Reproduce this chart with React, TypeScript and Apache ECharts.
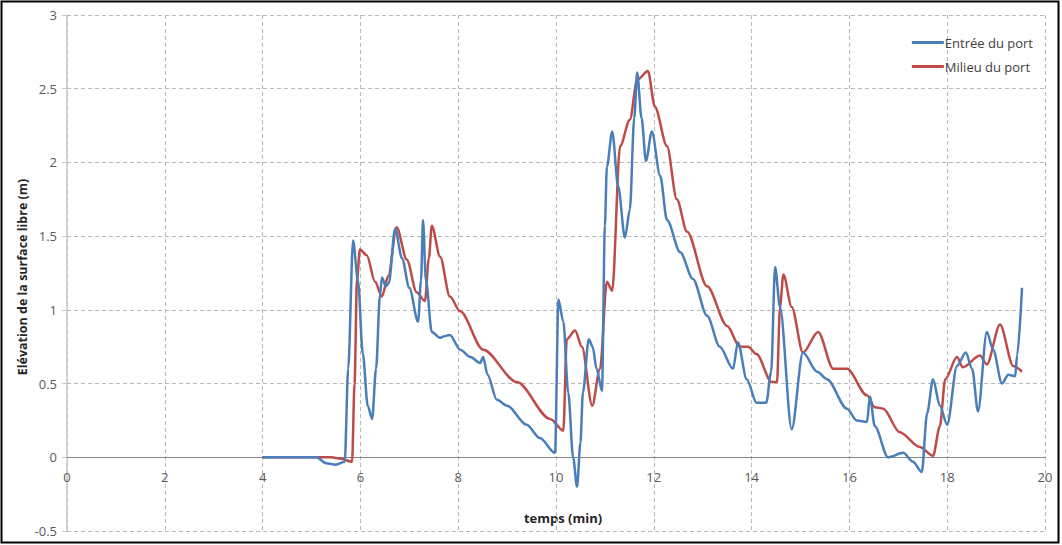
import React, { useEffect, useRef } from "react";
import * as echarts from "echarts";

const entreeTime = [4.0, 5.1, 5.3, 5.5, 5.68, 5.75, 5.85, 5.95, 6.05, 6.15, 6.24, 6.32, 6.4, 6.44, 6.52, 6.58, 6.71, 6.85, 7.0, 7.18, 7.24, 7.28, 7.34, 7.46, 7.63, 7.7, 7.83, 8.04, 8.25, 8.45, 8.51, 8.6, 8.79, 9.0, 9.4, 9.67, 9.98, 10.05, 10.15, 10.25, 10.35, 10.43, 10.5, 10.55, 10.67, 10.75, 10.83, 10.94, 11.0, 11.04, 11.15, 11.27, 11.41, 11.51, 11.6, 11.66, 11.75, 11.84, 11.96, 12.13, 12.27, 12.54, 12.8, 13.09, 13.35, 13.62, 13.72, 13.9, 14.1, 14.3, 14.4, 14.48, 14.58, 14.82, 15.05, 15.34, 15.54, 15.95, 16.15, 16.36, 16.42, 16.52, 16.79, 17.1, 17.3, 17.48, 17.59, 17.71, 17.85, 18.0, 18.2, 18.38, 18.51, 18.63, 18.81, 18.94, 19.12, 19.25, 19.39, 19.43, 19.53];
const entreeElev = [0, 0, -0.04, -0.05, -0.03, 0.6, 1.47, 1.2, 0.7, 0.35, 0.26, 0.6, 1.1, 1.22, 1.16, 1.18, 1.55, 1.35, 1.15, 0.92, 1.2, 1.61, 1.2, 0.85, 0.81, 0.82, 0.83, 0.73, 0.68, 0.64, 0.68, 0.56, 0.39, 0.35, 0.22, 0.13, 0.03, 1.07, 0.92, 0.44, 0.0, -0.2, 0.1, 0.44, 0.8, 0.75, 0.6, 0.45, 1.57, 1.97, 2.21, 1.84, 1.49, 1.68, 2.3, 2.61, 2.3, 2.01, 2.21, 1.91, 1.61, 1.39, 1.21, 0.96, 0.75, 0.6, 0.78, 0.53, 0.37, 0.37, 0.58, 1.29, 1.02, 0.19, 0.71, 0.58, 0.53, 0.33, 0.25, 0.24, 0.41, 0.21, 0.0, 0.03, -0.03, -0.1, 0.3, 0.53, 0.35, 0.22, 0.62, 0.71, 0.6, 0.31, 0.85, 0.73, 0.5, 0.56, 0.55, 0.69, 1.15];

const milieuTime = [4.0, 5.4, 5.6, 5.83, 5.88, 5.93, 5.99, 6.13, 6.3, 6.44, 6.57, 6.74, 6.95, 7.15, 7.32, 7.4, 7.46, 7.63, 7.83, 8.04, 8.51, 9.2, 9.88, 10.15, 10.22, 10.39, 10.53, 10.74, 10.9, 11.04, 11.15, 11.31, 11.51, 11.66, 11.88, 12.02, 12.27, 12.47, 12.68, 13.09, 13.5, 13.76, 13.93, 14.1, 14.41, 14.52, 14.58, 14.65, 14.82, 15.05, 15.36, 15.67, 15.95, 16.36, 16.52, 16.69, 17.03, 17.44, 17.71, 17.85, 17.96, 18.2, 18.32, 18.67, 18.81, 19.08, 19.35, 19.53];
const milieuElev = [0, 0, -0.01, -0.03, 0.5, 1.2, 1.41, 1.37, 1.19, 1.09, 1.23, 1.56, 1.34, 1.12, 1.06, 1.35, 1.57, 1.36, 1.09, 0.99, 0.73, 0.51, 0.26, 0.18, 0.8, 0.86, 0.75, 0.35, 0.6, 1.19, 1.13, 2.11, 2.29, 2.56, 2.62, 2.38, 2.11, 1.75, 1.53, 1.16, 0.89, 0.75, 0.75, 0.7, 0.51, 0.51, 1.02, 1.24, 1.02, 0.71, 0.85, 0.6, 0.6, 0.42, 0.34, 0.33, 0.17, 0.07, 0.01, 0.21, 0.53, 0.68, 0.61, 0.69, 0.63, 0.9, 0.62, 0.58];

const seriesNames = ["Entrée du port", "Milieu du port"];
const seriesColors = ["#4a7ebb", "#be4b48"];
const xTitle = "temps (min)";
const yTitle = "Elévation de la surface libre (m)";

const FONT = "'Open Sans', 'Liberation Sans', sans-serif";

export default function App() {
  const ref = useRef<HTMLDivElement>(null);
  useEffect(() => {
    document.body.style.margin = "0";
    if (!ref.current) return;
    const chart = echarts.init(ref.current, undefined, { renderer: "svg" });
    const pair = (xs: number[], ys: number[]) => xs.map((x, i) => [x, ys[i]]);
    chart.setOption({
      animation: false,
      backgroundColor: "#ffffff",
      textStyle: { fontFamily: FONT },
      grid: { left: 67, right: 17, top: 15, bottom: 14 },
      legend: {
        orient: "vertical",
        right: 24,
        top: 31,
        itemGap: 11,
        itemWidth: 32,
        itemHeight: 3,
        icon: "rect",
        textStyle: { fontFamily: FONT, fontSize: 13, color: "#404040", padding: [0, 0, 0, -4] },
        data: seriesNames,
      },
      xAxis: {
        type: "value",
        min: 0,
        max: 20,
        interval: 2,
        axisLine: { show: true, onZero: true, lineStyle: { color: "#868686", width: 1.2 } },
        axisTick: { show: false },
        axisLabel: { color: "#595959", fontSize: 13, margin: -61, fontFamily: FONT },
        splitLine: { show: true, lineStyle: { color: "#b8b8b8", type: [4, 3], width: 1 } },
      },
      yAxis: {
        type: "value",
        min: -0.5,
        max: 3,
        interval: 0.5,
        axisLine: { show: true, onZero: false, lineStyle: { color: "#c8c8c8", width: 1.5 } },
        axisTick: { show: true, length: 5, lineStyle: { color: "#c8c8c8" } },
        axisLabel: { color: "#595959", fontSize: 13, margin: 10, fontFamily: FONT },
        splitLine: { show: true, lineStyle: { color: "#b8b8b8", type: [4, 3], width: 1 } },
      },
      series: [
        {
          name: seriesNames[0],
          type: "line",
          data: pair(entreeTime, entreeElev),
          showSymbol: false,
          smooth: 0.3,
          smoothMonotone: "x",
          lineStyle: { color: seriesColors[0], width: 2.5 },
          itemStyle: { color: seriesColors[0] },
          z: 3,
        },
        {
          name: seriesNames[1],
          type: "line",
          data: pair(milieuTime, milieuElev),
          showSymbol: false,
          smooth: 0.3,
          smoothMonotone: "x",
          lineStyle: { color: seriesColors[1], width: 2.5 },
          itemStyle: { color: seriesColors[1] },
          z: 2,
        },
      ],
      graphic: [
        {
          type: "rect",
          shape: { x: 1.5, y: 1.5, width: 1057, height: 541 },
          style: { fill: "none", stroke: "#000000", lineWidth: 2 },
          silent: true,
        },
        {
          type: "text",
          x: 563,
          y: 518,
          style: {
            text: xTitle,
            fontFamily: FONT,
            fontSize: 13,
            fontWeight: "bold",
            fill: "#262626",
            align: "center",
            verticalAlign: "middle",
          },
        },
        {
          type: "text",
          x: 22,
          y: 277,
          rotation: Math.PI / 2,
          style: {
            text: yTitle,
            fontFamily: FONT,
            fontSize: 12.5,
            fontWeight: "bold",
            fill: "#262626",
            align: "center",
            verticalAlign: "middle",
          },
        },
      ],
    });
    return () => chart.dispose();
  }, []);
  return <div ref={ref} style={{ width: 1062, height: 545 }} />;
}
